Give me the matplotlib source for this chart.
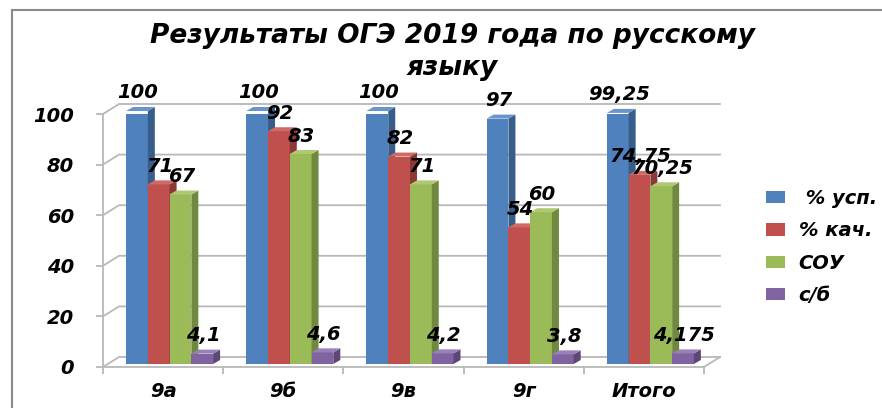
"""
Результаты ОГЭ 2019 по русскому языку - 3D-style grouped bars.
"""
import matplotlib
matplotlib.use("Agg")
import matplotlib.pyplot as plt
from matplotlib.lines import Line2D
from matplotlib.patches import Polygon, Patch
from matplotlib.transforms import offset_copy

# data
classes = ["9а", "9б", "9в", "9г", "Итого"]
series_names = [" % усп.", "% кач.", "СОУ", "с/б"]
usp = [100, 100, 100, 97, 99.25]
kach = [71, 92, 82, 54, 74.75]
sou = [67, 83, 71, 60, 70.25]
sb = [4.1, 4.6, 4.2, 3.8, 4.175]
labels_sb = ["4,1", "4,6", "4,2", "3,8", "4,175"]

faces = ["#4F81BD", "#C0504D", "#9BBB59", "#8064A2"]
sides = ["#385D8A", "#8C3836", "#71893F", "#5C4776"]
tops = ["#6A95CC", "#CF6A67", "#AEC972", "#9880B8"]

W, H = 882, 408
fig = plt.figure(figsize=(W / 100, H / 100), dpi=100)
ax = fig.add_axes([103 / W, 41 / H, 601 / W, 253 / H])
ax.set_xlim(-0.5, 4.5)
ax.set_ylim(0, 100)

px_x = 601 / 5.0     # pixels per category
px_y = 253 / 100.0   # pixels per unit
grid_col = "#B8B8B8"
bold_it = {"fontsize": 14, "fontweight": "bold", "fontstyle": "italic"}

# back wall grid (depth offset)
bdx, bdy = 16 / px_x, 10 / px_y
for v in range(0, 101, 20):
    ax.plot([-0.5, -0.5 + bdx, 4.5 + bdx], [v, v + bdy, v + bdy],
            color=grid_col, lw=1.3, zorder=0, clip_on=False)
ax.plot([4.5, 4.5 + bdx], [0, bdy], color=grid_col, lw=1.3, zorder=0, clip_on=False)

# bars
w = 0.181
shift = 0.054
sdx, sdy = 7 / px_x, 4 / px_y
lift = 3 / px_y
all_series = [usp, kach, sou, sb]
for k, vals in enumerate(all_series):
    for i, v in enumerate(vals):
        xc = i + (k - 1.5) * w + shift
        x0, x1 = xc - w / 2, xc + w / 2
        z = 2 + k
        ax.bar(xc, v, width=w, bottom=lift, color=faces[k], zorder=z)
        ax.add_patch(Polygon([(x1, lift), (x1, v + lift), (x1 + sdx, v + lift + sdy),
                              (x1 + sdx, lift + sdy)], closed=True,
                             facecolor=sides[k], edgecolor="none", zorder=z, clip_on=False))
        ax.add_patch(Polygon([(x0, v + lift), (x1, v + lift), (x1 + sdx, v + lift + sdy),
                              (x0 + sdx, v + lift + sdy)], closed=True,
                             facecolor=tops[k], edgecolor="none", zorder=z, clip_on=False))
        if k == 3:
            txt = labels_sb[i]
        else:
            txt = ("%g" % v).replace(".", ",")
        lab_tr = offset_copy(ax.transData, fig, x=1, y=18, units="dots")
        ax.text(xc, v + lift, txt, transform=lab_tr, ha="center", va="center",
                zorder=10, **bold_it)

# axes styling
for s in ["top", "right"]:
    ax.spines[s].set_visible(False)
for s in ["left", "bottom"]:
    ax.spines[s].set_color(grid_col)
    ax.spines[s].set_linewidth(1.3)
ax.set_yticks(range(0, 101, 20))
ax.tick_params(axis="y", length=5, width=1.3, color=grid_col, pad=16)
ax.set_xticks(range(5))
ax.set_xticklabels(classes)
ax.set_xticks([i - 0.5 for i in range(6)], minor=True)
ax.tick_params(axis="x", which="major", length=0, pad=11)
ax.tick_params(axis="x", which="minor", length=5, width=1.3, color=grid_col)
for t in ax.get_xticklabels() + ax.get_yticklabels():
    t.set_fontsize(14)
    t.set_fontweight("bold")
    t.set_fontstyle("italic")

# legend
handles = [Patch(facecolor=c, edgecolor="none") for c in faces]
fig.legend(handles, series_names, loc="center left", bbox_to_anchor=(748 / W, 1 - 247 / H),
           frameon=False, prop={"size": 14, "weight": "bold", "style": "italic"},
           handlelength=1.0, handleheight=0.6, handletextpad=0.7, labelspacing=0.68)

# title
fig.text(452 / W, 1 - 52 / H, "Результаты ОГЭ 2019 года по русскому\nязыку",
         ha="center", va="center", fontsize=19, fontweight="bold", fontstyle="italic",
         linespacing=1.3)

# outer chart border
fig.add_artist(Line2D([12 / W, 12 / W], [0, 1 - 10 / H], color="#8A8A8A", lw=1.5))
fig.add_artist(Line2D([12 / W, 1], [1 - 10 / H, 1 - 10 / H], color="#8A8A8A", lw=1.5))

fig.savefig("out.png", dpi=100)
